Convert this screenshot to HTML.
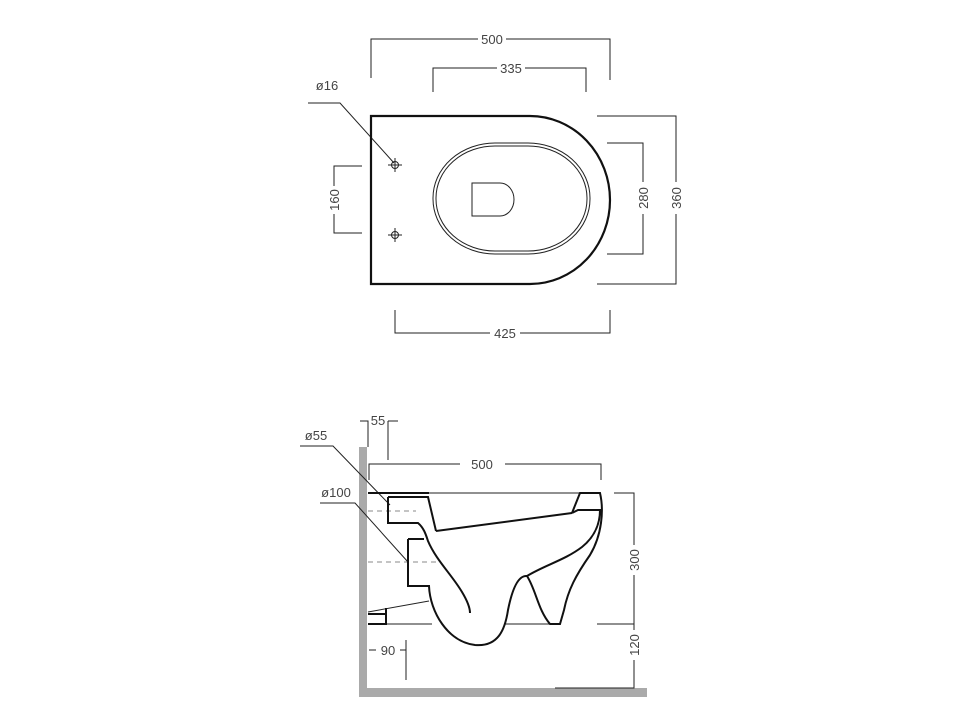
<!DOCTYPE html>
<html><head><meta charset="utf-8"><style>
html,body{margin:0;padding:0;background:#fff}
svg{display:block}
text{font-family:"Liberation Sans",sans-serif;font-size:13px;fill:#444}
</style></head><body>
<svg width="977" height="722" viewBox="0 0 977 722" xmlns="http://www.w3.org/2000/svg">
<g fill="none" stroke="#222" stroke-width="1">
<path d="M371,78 V39 H478 M506,39 H610 V80"/>
<path d="M433,92 V68 H497 M525,68 H586 V92"/>
<path d="M308,103 H340 L394,163"/>
<path d="M362,166 H334 V186 M334,214 V233 H362"/>
<path d="M607,143 H643 V182 M643,214 V254 H607"/>
<path d="M597,116 H676 V182 M676,214 V284 H597"/>
<path d="M395,310 V333 H490 M520,333 H610 V310"/>
</g>
<text x="492" y="44" text-anchor="middle">500</text>
<text x="511" y="73" text-anchor="middle">335</text>
<text x="327" y="90" text-anchor="middle">ø16</text>
<text transform="translate(339,200) rotate(-90)" text-anchor="middle">160</text>
<text transform="translate(648,198) rotate(-90)" text-anchor="middle">280</text>
<text transform="translate(681,198) rotate(-90)" text-anchor="middle">360</text>
<text x="505" y="338" text-anchor="middle">425</text>
<path d="M371,116 H530 A80,84 0 0 1 530,284 H371 Z" fill="none" stroke="#111" stroke-width="2.2"/>
<rect x="433" y="143" width="157" height="111" rx="62" ry="55" fill="none" stroke="#222" stroke-width="1"/>
<rect x="436" y="146" width="151" height="105" rx="59" ry="52" fill="none" stroke="#222" stroke-width="1"/>
<path d="M472,183 H500 A14,16.5 0 0 1 500,216 H472 Z" fill="none" stroke="#222" stroke-width="1"/>
<g fill="none" stroke="#222" stroke-width="1">
<circle cx="395" cy="165" r="3.5"/><path d="M388,165 H402 M395,158 V172"/>
<circle cx="395" cy="235" r="3.5"/><path d="M388,235 H402 M395,228 V242"/>
</g>
<rect x="359" y="447" width="8" height="250" fill="#aaa"/>
<rect x="359" y="688" width="288" height="9" fill="#aaa"/>
<g fill="none" stroke="#222" stroke-width="1">
<path d="M360,421 H368 V447 M388,421 H398 M388,421 V460"/>
<path d="M369,480 V464 H460 M505,464 H601 V480"/>
<path d="M300,446 H333 L390,505"/>
<path d="M320,503 H355 L408,562"/>
<path d="M614,493 H634 V545 M634,575 V624 H597"/>
<path d="M634,624 V630 M634,660 V688 H555"/>
<path d="M369,650 H376 M400,650 H406 M406,640 V680"/>
<path d="M368,493 H580 M368,624 H432 M505,624 H560"/>
<path d="M368,612 L429,601"/>
</g>
<g fill="none" stroke="#888" stroke-width="1" stroke-dasharray="5,4">
<path d="M368,511 H416 M368,562 H440"/>
</g>
<text x="378" y="425" text-anchor="middle">55</text>
<text x="482" y="469" text-anchor="middle">500</text>
<text x="316" y="440" text-anchor="middle">ø55</text>
<text x="336" y="497" text-anchor="middle">ø100</text>
<text transform="translate(639,560) rotate(-90)" text-anchor="middle">300</text>
<text transform="translate(639,645) rotate(-90)" text-anchor="middle">120</text>
<text x="388" y="655" text-anchor="middle">90</text>
<g fill="none" stroke="#111" stroke-width="2">
<path d="M368,493 H429 M388,497 H428 L436,531 M388,497 V523 H418 C424,528 426,535 428,541 C436,560 452,575 462,592 C468,602 470,608 470,613"/>
<path d="M408,539 H424 M408,539 V586 H429 C430,612 448,642 475,645 C498,647 505,630 508,610 C512,590 518,575 527,576"/>
<path d="M436,531 L572,513"/>
<path d="M572,513 L580,493 H600 C604,510 602,535 590,555 C576,575 568,590 564,610 L560,624 H550 C538,610 536,590 527,576 C545,565 565,560 582,547 C597,535 600,520 600,510 H578 L572,513"/>
<path d="M368,614 H386 V624 H368 M386,614 V608"/>
</g>
</svg>
</body></html>
